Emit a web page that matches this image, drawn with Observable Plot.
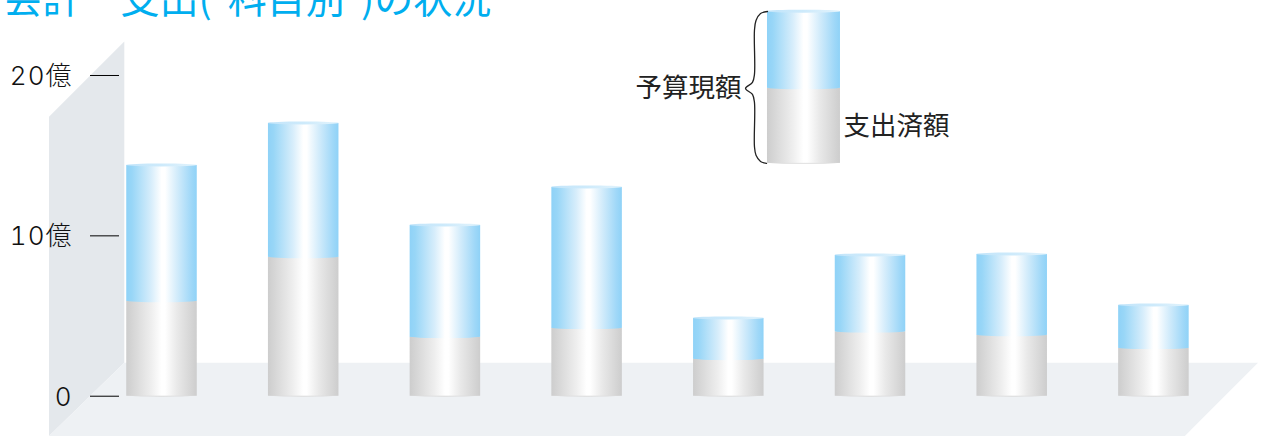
<!DOCTYPE html>
<html lang="ja">
<head>
<meta charset="utf-8">
<style>
html,body{margin:0;padding:0;background:#fff;overflow:hidden}
svg{display:block}
g[aria-label="text"]:last-of-type text{word-spacing:7.5px}
g[aria-label="y-axis tick label"] text{letter-spacing:1px;translate:0 1px}
</style>
<script src="https://cdn.jsdelivr.net/npm/d3@7"></script>
<script src="https://cdn.jsdelivr.net/npm/@observablehq/plot@0.6"></script>
</head>
<body>
<div id="chart"></div>
<script>
// Series (億)
const slots  = [0, 1, 2, 3, 4, 5, 6, 7];
const budget = [14.39, 17.01, 10.65, 13.02, 4.85, 8.78, 8.84, 5.66];
const spent  = [5.92, 8.66, 3.68, 4.24, 2.31, 4.02, 3.80, 2.99];

const yTicks  = [0, 10, 20];
const yLabels = ["0", "10億", "20億"];

const titleText   = "会計　支出( 科目別 )の状況";
const legendNames = ["予算現額", "支出済額"];

// Legend cylinder, drawn in the chart's own units
const legendCyl = {x1: 4.273, x2: 4.788, base: 14.52, mid: 19.2, top: 23.98};

// Brace beside the legend
const braceX = [4.273, 4.224, 4.192, 4.181, 4.181, 4.167, 4.118, 4.167, 4.181, 4.181, 4.192, 4.224, 4.266];
const braceY = [23.99, 23.87, 23.43, 22.81, 20.07, 19.57, 19.19, 18.82, 18.32, 15.58, 15.02, 14.64, 14.52];

// 3-D backdrop
const wallX  = [-0.794, -0.2625];
const wallY1 = [-2.513, 2.06];
const wallY2 = [17.40, 22.09];
const floorY  = [2.06, -2.513];
const floorX1 = [-0.2625, -0.794];
const floorX2 = [7.738, 7.222];

const halfBar = 0.2488;
const rows = slots.map((i) => ({x1: i - halfBar, x2: i + halfBar, base: 0, mid: spent[i], top: budget[i]}))
  .concat([legendCyl]);

function defs() {
  const d = d3.create("svg:defs");
  const add = (id, list) => {
    const g = d.append("linearGradient").attr("id", id).attr("x1", 0).attr("x2", 1).attr("y1", 0).attr("y2", 0);
    list.forEach(([o, c]) => g.append("stop").attr("offset", o).attr("stop-color", c));
  };
  add("blue", [[0, "#8fd2f7"], [0.08, "#98d6f7"], [0.35, "#d6edfb"], [0.5, "#ffffff"], [0.55, "#ffffff"], [0.72, "#d3ecfb"], [0.92, "#a0d8f8"], [1, "#8fd2f7"]]);
  add("grey", [[0, "#cdcdcd"], [0.35, "#eeeeee"], [0.5, "#ffffff"], [0.55, "#ffffff"], [0.72, "#e9e9e9"], [1, "#cdcdcd"]]);
  add("cap",  [[0, "#c3e5fa"], [0.5, "#cdeafb"], [1, "#e2f3fc"]]);
  return d.node();
}

const cjk = "'Noto Sans CJK JP', sans-serif";
const chart = Plot.plot({
  width: 1263,
  height: 436,
  marginLeft: 119,
  marginRight: 0,
  marginTop: 0,
  marginBottom: 0,
  x: {domain: [-0.29993, 7.7734], axis: null},
  y: {domain: [-2.513, 24.677], axis: null},
  marks: [
    defs,
    Plot.areaY([0, 1], {x: (i) => wallX[i], y1: (i) => wallY1[i], y2: (i) => wallY2[i], fill: "#e4e8ec"}),
    Plot.areaX([0, 1], {y: (i) => floorY[i], x1: (i) => floorX1[i], x2: (i) => floorX2[i], fill: "#eef1f4"}),
    // spent part, with its rounded foot
    Plot.rect(rows, {x1: "x1", x2: "x2", y1: "base", y2: "base", insetTop: -2, insetBottom: -1, rx: 35, ry: 1.5, fill: "#dcdcdc"}),
    Plot.rect(rows, {x1: "x1", x2: "x2", y1: "base", y2: "mid", fill: "url(#grey)"}),
    // budget part, with its rounded foot
    Plot.rect(rows, {x1: "x1", x2: "x2", y1: "mid", y2: "mid", insetTop: -2, insetBottom: -1.5, rx: 35, ry: 1.75, fill: "url(#blue)"}),
    Plot.rect(rows, {x1: "x1", x2: "x2", y1: "mid", y2: "top", fill: "url(#blue)"}),
    // top ellipse
    Plot.rect(rows, {x1: "x1", x2: "x2", y1: "top", y2: "top", insetTop: -1.5, insetBottom: -1.5, rx: 35, ry: 1.5, fill: "url(#cap)"}),
    // legend
    Plot.line(braceX.map((x, i) => [x, braceY[i]]), {curve: "catmull-rom", stroke: "#222", strokeWidth: 1.3}),
    Plot.text([legendNames[0]], {x: 4.089, y: 19.19, text: (d) => d, textAnchor: "end", fontSize: 26.5, fill: "#222", fontFamily: cjk}),
    Plot.text([legendNames[1]], {x: 4.809, y: 16.82, text: (d) => d, textAnchor: "start", fontSize: 26.5, fill: "#222", fontFamily: cjk}),
    // y axis
    Plot.axisY(yTicks, {
      anchor: "left", tickSize: 29, tickPadding: 18, strokeWidth: 1, stroke: "#000", fill: "#111",
      tickFormat: (d) => yLabels[yTicks.indexOf(d)], fontSize: 26, fontWeight: 300,
      fontFamily: "Inter, 'Noto Sans CJK JP', sans-serif", label: null
    }),
    // title
    Plot.text([titleText], {x: -1.119, y: 24.7, text: (d) => d, textAnchor: "start", fontSize: 39, fill: "#00aeef", fontFamily: cjk})
  ]
});
document.getElementById("chart").append(chart);
</script>
</body>
</html>
